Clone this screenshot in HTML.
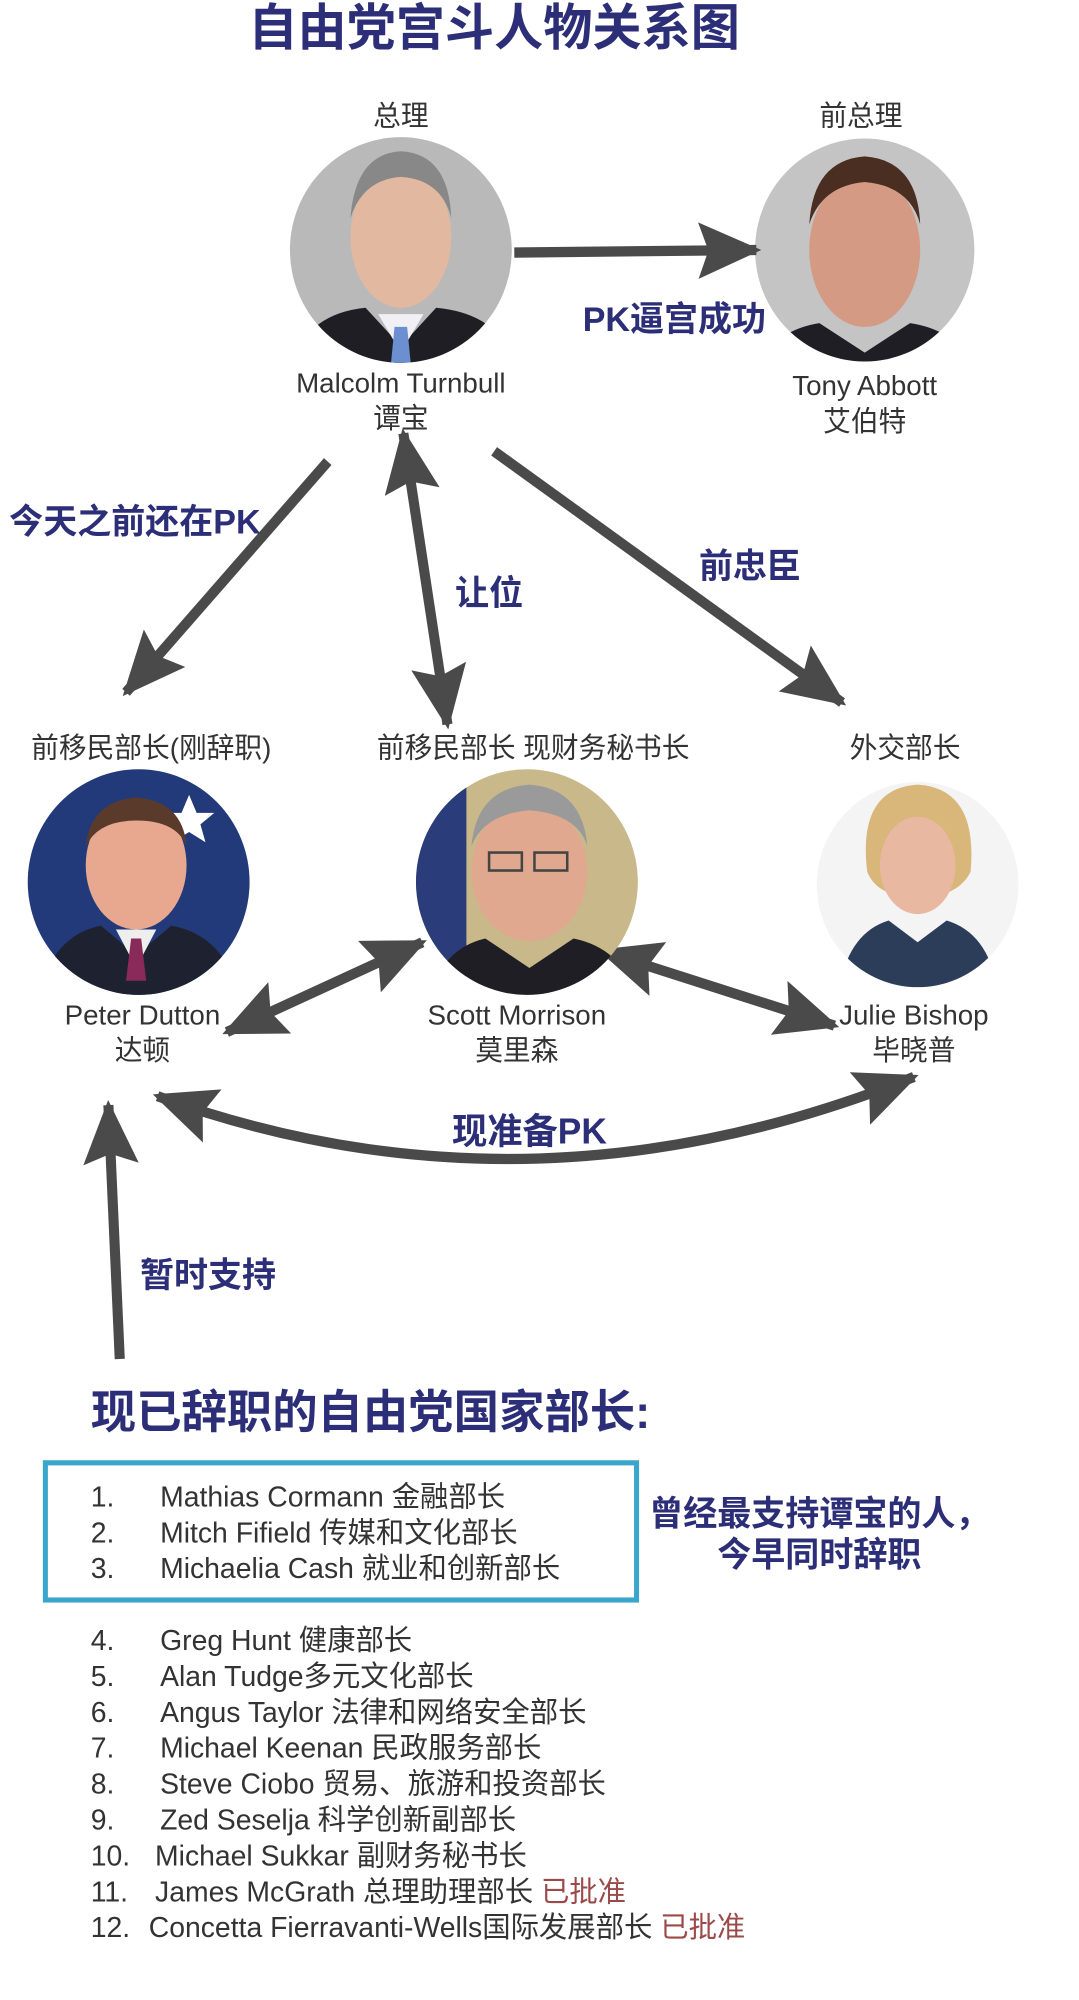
<!DOCTYPE html>
<html><head><meta charset="utf-8"><style>
html,body{margin:0;padding:0;background:#fff;}
svg{display:block;}
.t{font-family:"Liberation Sans","Noto Sans CJK SC",sans-serif;}
.b{font-weight:bold;fill:#2c2f78;}
.n{fill:#333;font-size:22px;}
.l{fill:#333;font-size:22.5px;}
</style></head><body>
<svg width="1079" height="2000" viewBox="0 0 856 1560" preserveAspectRatio="none" xmlns="http://www.w3.org/2000/svg">
<defs>
<marker id="ah" viewBox="0 0 50 44" markerUnits="userSpaceOnUse" markerWidth="50" markerHeight="44" refX="46" refY="22" orient="auto-start-reverse">
<path d="M0,0 L50,22 L0,44 L8,22 z" fill="#4a4a4a"/>
</marker>
<clipPath id="c1"><circle cx="318" cy="195" r="88"/></clipPath>
<clipPath id="c2"><circle cx="686" cy="195" r="87"/></clipPath>
<clipPath id="c3"><circle cx="110" cy="688" r="88"/></clipPath>
<clipPath id="c4"><circle cx="418" cy="688" r="88"/></clipPath>
<clipPath id="c5"><circle cx="728" cy="690" r="80"/></clipPath>
</defs>

<text class="t b" x="392" y="35" font-size="39" text-anchor="middle">自由党宫斗人物关系图</text>

<!-- Turnbull -->
<text class="t n" x="318" y="98" text-anchor="middle">总理</text>
<g clip-path="url(#c1)">
<rect x="220" y="100" width="200" height="200" fill="#b9b9b9"/>
<ellipse cx="318" cy="185" rx="40" ry="55" fill="#e2b9a0"/>
<path d="M278,170 Q282,120 318,118 Q356,120 358,170 Q350,140 318,138 Q288,140 278,170z" fill="#888"/>
<path d="M230,290 Q240,245 290,240 L318,270 L346,240 Q400,245 410,290z" fill="#1e1e24"/>
<path d="M300,245 L318,275 L336,245z" fill="#f0f0f5"/>
<path d="M313,255 L323,255 L326,285 L310,285z" fill="#6b8fcf"/>
</g>
<text class="t n" x="318" y="306" text-anchor="middle">Malcolm Turnbull</text>
<text class="t n" x="318" y="334" text-anchor="middle">谭宝</text>

<!-- Abbott -->
<text class="t n" x="683" y="98" text-anchor="middle">前总理</text>
<g clip-path="url(#c2)">
<rect x="590" y="100" width="200" height="200" fill="#c4c4c4"/>
<ellipse cx="686" cy="195" rx="44" ry="60" fill="#d49a84"/>
<path d="M642,175 Q645,125 686,122 Q728,125 730,175 Q722,145 686,142 Q652,145 642,175z" fill="#4a2e22"/>
<path d="M600,290 Q612,258 650,252 L686,275 L722,252 Q762,258 772,290z" fill="#1e1e24"/>
</g>
<text class="t n" x="686" y="308" text-anchor="middle">Tony Abbott</text>
<text class="t n" x="686" y="336" text-anchor="middle">艾伯特</text>

<!-- arrows -->
<g stroke="#4a4a4a" stroke-width="8" fill="none">
<line x1="408" y1="197" x2="600" y2="195" marker-end="url(#ah)"/>
<line x1="260" y1="360" x2="100" y2="540" marker-end="url(#ah)"/>
<line x1="320" y1="338" x2="355" y2="565" marker-start="url(#ah)" marker-end="url(#ah)"/>
<line x1="392" y1="352" x2="668" y2="548" marker-end="url(#ah)"/>
<line x1="180" y1="805" x2="335" y2="735" marker-start="url(#ah)" marker-end="url(#ah)"/>
<line x1="478" y1="742" x2="662" y2="800" marker-start="url(#ah)" marker-end="url(#ah)"/>
<path d="M125,855 Q420,960 725,840" marker-start="url(#ah)" marker-end="url(#ah)"/>
<line x1="95" y1="1060" x2="86" y2="862" marker-end="url(#ah)"/>
</g>

<text class="t b" x="535" y="258" font-size="27" text-anchor="middle">PK逼宫成功</text>
<text class="t b" x="107" y="416" font-size="27" text-anchor="middle">今天之前还在PK</text>
<text class="t b" x="388" y="472" font-size="27" text-anchor="middle">让位</text>
<text class="t b" x="595" y="451" font-size="27" text-anchor="middle">前忠臣</text>

<text class="t n" x="120" y="591" text-anchor="middle">前移民部长(刚辞职)</text>
<text class="t n" x="423" y="591" text-anchor="middle">前移民部长 现财务秘书长</text>
<text class="t n" x="718" y="591" text-anchor="middle">外交部长</text>

<!-- Dutton -->
<g clip-path="url(#c3)">
<rect x="20" y="598" width="180" height="180" fill="#233a7a"/>
<path d="M20,640 L80,600 L20,600z" fill="#c23"/>
<path d="M150,620 l6,14 l14,0 l-11,9 l4,14 l-13,-8 l-13,8 l4,-14 l-11,-9 l14,0z" fill="#fff"/>
<ellipse cx="108" cy="675" rx="40" ry="50" fill="#e8a890"/>
<path d="M68,660 Q72,625 108,622 Q145,625 148,660 Q140,640 108,640 Q78,640 68,660z" fill="#5a3a2a"/>
<path d="M30,780 Q40,730 80,722 L108,745 L136,722 Q180,730 190,780z" fill="#1e2230"/>
<path d="M92,725 L108,755 L124,725z" fill="#eee"/>
<path d="M104,732 L112,732 L116,765 L100,765z" fill="#8a2a5a"/>
</g>
<text class="t n" x="113" y="799" text-anchor="middle">Peter Dutton</text>
<text class="t n" x="113" y="827" text-anchor="middle">达顿</text>

<!-- Morrison -->
<g clip-path="url(#c4)">
<rect x="330" y="598" width="180" height="180" fill="#c9b98a"/>
<rect x="330" y="598" width="40" height="180" fill="#2a3d7a"/>
<ellipse cx="420" cy="680" rx="46" ry="54" fill="#e0a88e"/>
<path d="M374,660 Q378,615 420,612 Q462,615 466,660 Q458,635 420,632 Q384,635 374,660z" fill="#9a9a9a"/>
<rect x="388" y="665" width="26" height="14" fill="none" stroke="#444" stroke-width="2"/>
<rect x="424" y="665" width="26" height="14" fill="none" stroke="#444" stroke-width="2"/>
<path d="M340,780 Q350,740 385,732 L420,755 L455,732 Q495,740 505,780z" fill="#1e1e24"/>
</g>
<text class="t n" x="410" y="799" text-anchor="middle">Scott Morrison</text>
<text class="t n" x="410" y="827" text-anchor="middle">莫里森</text>

<!-- Bishop -->
<g clip-path="url(#c5)">
<rect x="645" y="605" width="170" height="170" fill="#f4f4f4"/>
<path d="M688,680 Q680,615 728,612 Q776,615 770,680 Q760,700 728,700 Q696,700 688,680z" fill="#d9b67a"/>
<ellipse cx="728" cy="675" rx="30" ry="38" fill="#e8b8a0"/>
<path d="M665,775 Q672,728 705,718 L728,735 L751,718 Q785,728 792,775z" fill="#2c3d5a"/>
</g>
<text class="t n" x="725" y="799" text-anchor="middle">Julie Bishop</text>
<text class="t n" x="725" y="827" text-anchor="middle">毕晓普</text>

<text class="t b" x="420" y="892" font-size="28" text-anchor="middle">现准备PK</text>
<text class="t b" x="165" y="1004" font-size="27" text-anchor="middle">暂时支持</text>

<text class="t b" x="72" y="1114" font-size="36">现已辞职的自由党国家部长:</text>

<rect x="36" y="1141" width="469" height="107" fill="none" stroke="#3aa6cc" stroke-width="4"/>

<text class="t b" x="650" y="1190" font-size="27" text-anchor="middle">曾经最支持谭宝的人，</text>
<text class="t b" x="650" y="1222" font-size="27" text-anchor="middle">今早同时辞职</text>

<g class="t l">
<text x="72" y="1175">1.</text><text x="127" y="1175">Mathias Cormann 金融部长</text>
<text x="72" y="1203">2.</text><text x="127" y="1203">Mitch Fifield 传媒和文化部长</text>
<text x="72" y="1231">3.</text><text x="127" y="1231">Michaelia Cash 就业和创新部长</text>
<text x="72" y="1287">4.</text><text x="127" y="1287">Greg Hunt 健康部长</text>
<text x="72" y="1315">5.</text><text x="127" y="1315">Alan Tudge多元文化部长</text>
<text x="72" y="1343">6.</text><text x="127" y="1343">Angus Taylor 法律和网络安全部长</text>
<text x="72" y="1371">7.</text><text x="127" y="1371">Michael Keenan 民政服务部长</text>
<text x="72" y="1399">8.</text><text x="127" y="1399">Steve Ciobo 贸易、旅游和投资部长</text>
<text x="72" y="1427">9.</text><text x="127" y="1427">Zed Seselja 科学创新副部长</text>
<text x="72" y="1455">10.</text><text x="123" y="1455">Michael Sukkar 副财务秘书长</text>
<text x="72" y="1483">11.</text><text x="123" y="1483">James McGrath 总理助理部长 <tspan fill="#9b4a4a">已批准</tspan></text>
<text x="72" y="1511">12.</text><text x="118" y="1511">Concetta Fierravanti-Wells国际发展部长 <tspan fill="#9b4a4a">已批准</tspan></text>
</g>
</svg>
</body></html>
